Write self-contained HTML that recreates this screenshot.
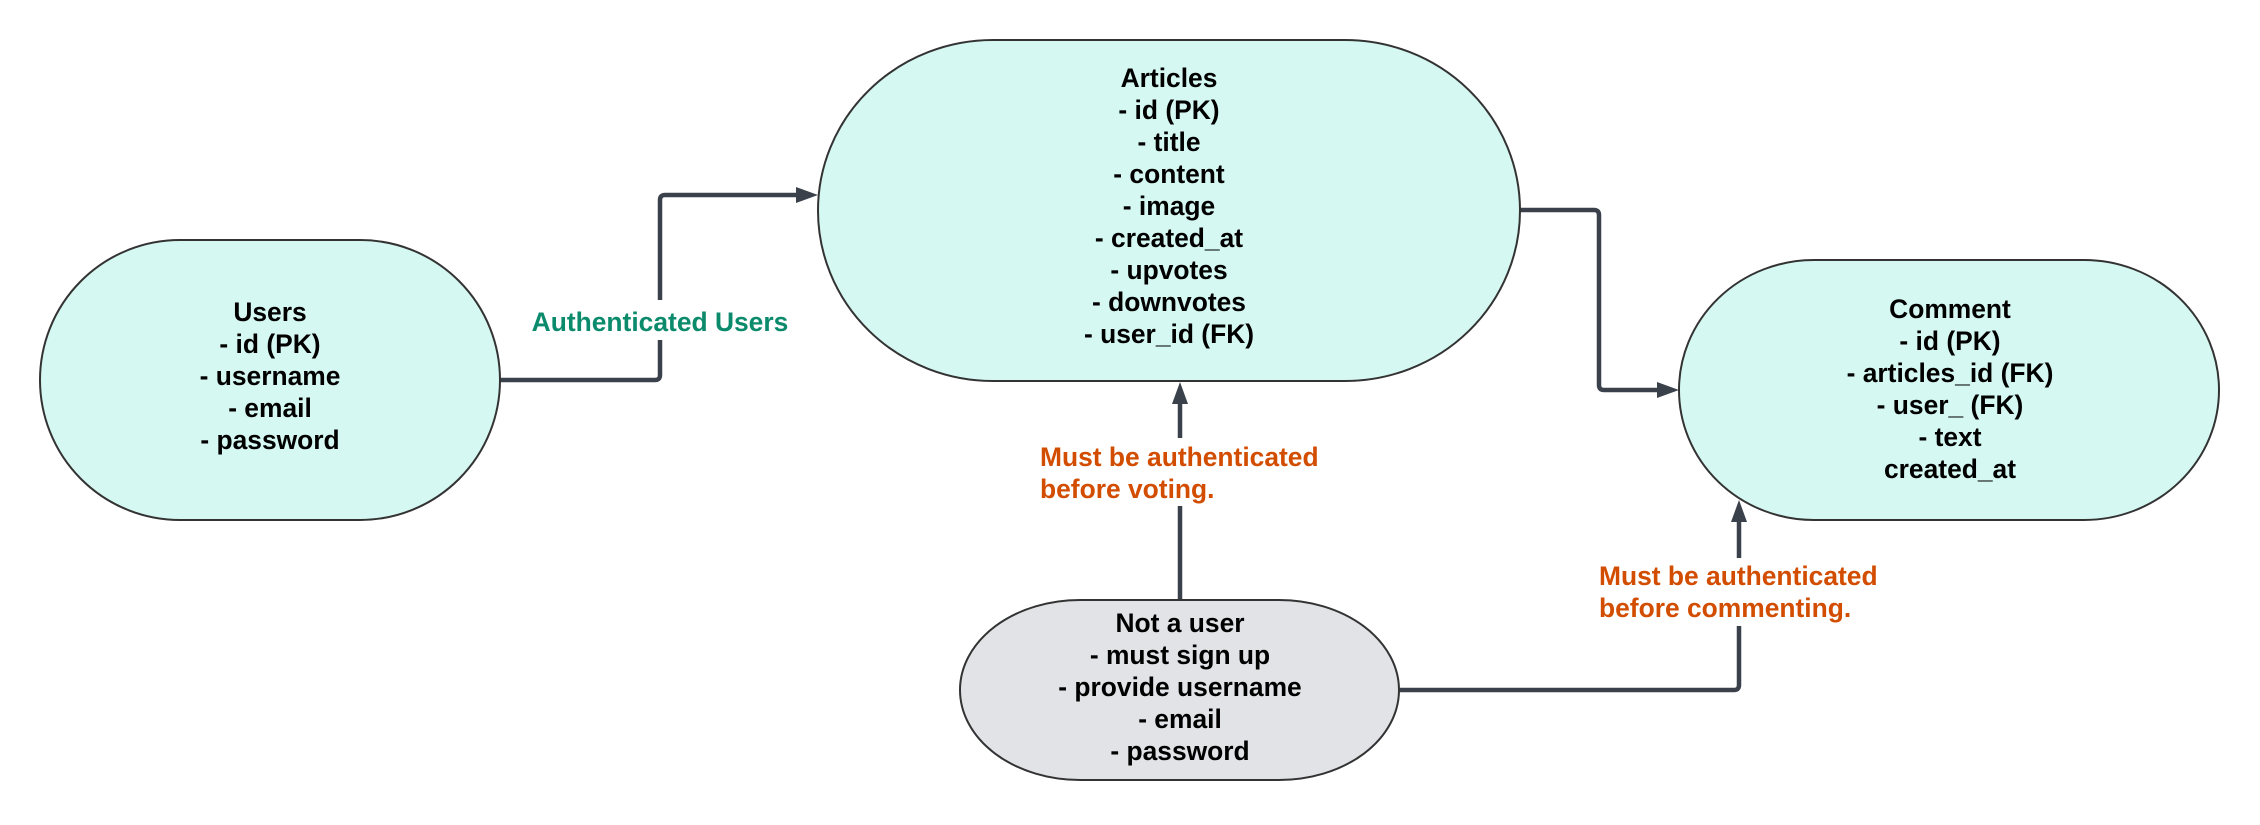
<!DOCTYPE html>
<html><head><meta charset="utf-8"><style>
html,body{margin:0;padding:0;background:#fff;}
svg text{font-family:"Liberation Sans",sans-serif;font-weight:bold;}
</style></head><body>
<svg width="2260" height="820" viewBox="0 0 2260 820" xmlns="http://www.w3.org/2000/svg">
<g fill="none" stroke="#3a414a" stroke-width="4.5" stroke-linejoin="round">
<path d="M500 380 H655 Q660 380 660 375 V200 Q660 195 665 195 H796"/>
<path d="M1520 210 H1594 Q1599 210 1599 215 V385 Q1599 390 1604 390 H1657"/>
<path d="M1180 600 V404"/>
<path d="M1399 690 H1734 Q1739 690 1739 685 V522"/>
</g>
<g fill="#3a414a">
<polygon points="818,195 796,187 796,203"/>
<polygon points="1679,390 1657,382 1657,398"/>
<polygon points="1180,382 1172,404 1188,404"/>
<polygon points="1739,500 1731,522 1747,522"/>
</g>
<g stroke="#333" stroke-width="2">
<rect x="40" y="240" width="460" height="280" rx="140" ry="140" fill="#d6f8f2"/>
<rect x="818" y="40" width="702" height="341" rx="175" ry="170.5" fill="#d6f8f2"/>
<rect x="1679" y="260" width="540" height="260" rx="135" ry="130" fill="#d6f8f2"/>
<rect x="960" y="600" width="439" height="180" rx="120" ry="90" fill="#e1e3e7"/>
</g>
<rect x="522" y="300" width="276" height="40" fill="#fff"/>
<rect x="1036" y="438" width="310" height="68" fill="#fff"/>
<rect x="1595" y="558" width="310" height="68" fill="#fff"/>
<g font-size="26.4" fill="#000" text-anchor="middle">
<text x="270" y="321">Users</text>
<text x="270" y="353">- id (PK)</text>
<text x="270" y="385">- username</text>
<text x="270" y="417">- email</text>
<text x="270" y="449">- password</text>
<text x="1169" y="87">Articles</text>
<text x="1169" y="119">- id (PK)</text>
<text x="1169" y="151">- title</text>
<text x="1169" y="183">- content</text>
<text x="1169" y="215">- image</text>
<text x="1169" y="247">- created_at</text>
<text x="1169" y="279">- upvotes</text>
<text x="1169" y="311">- downvotes</text>
<text x="1169" y="343">- user_id (FK)</text>
<text x="1950" y="318">Comment</text>
<text x="1950" y="350">- id (PK)</text>
<text x="1950" y="382">- articles_id (FK)</text>
<text x="1950" y="414">- user_ (FK)</text>
<text x="1950" y="446">- text</text>
<text x="1950" y="478">created_at</text>
<text x="1180" y="632">Not a user</text>
<text x="1180" y="664">- must sign up</text>
<text x="1180" y="696">- provide username</text>
<text x="1180" y="728">- email</text>
<text x="1180" y="760">- password</text>
</g>
<g font-size="26.4">
<text x="660" y="331" fill="#0b8a6c" text-anchor="middle">Authenticated Users</text>
<text x="1040" y="466" fill="#d24d00">Must be authenticated</text>
<text x="1040" y="498" fill="#d24d00">before voting.</text>
<text x="1599" y="585" fill="#d24d00">Must be authenticated</text>
<text x="1599" y="617" fill="#d24d00">before commenting.</text>
</g>
</svg>
</body></html>
